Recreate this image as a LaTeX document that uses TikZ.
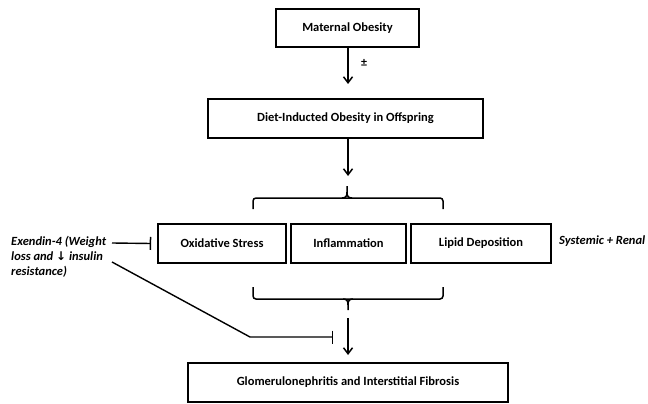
\documentclass[tikz,border=0pt]{standalone}
\usepackage{fontspec}
\setmainfont{Carlito}
\newfontfamily\symfont{DejaVu Sans}
\usetikzlibrary{arrows.meta}
\begin{document}
\begin{tikzpicture}[x=1pt,y=-1pt,
  box/.style={draw, line width=1.6pt, inner sep=0pt, font=\fontsize{12.5}{14}\selectfont\bfseries, align=center},
  arr/.style={line width=1.5pt, -{Straight Barb[length=6pt,width=9pt,line width=1.5pt]}},
  inh/.style={line width=1.4pt, -{Bar[width=13pt,line width=1.5pt]}},
  brace/.style={line width=1.5pt, rounded corners=3pt},
  lbl/.style={font=\fontsize{12.5}{15}\selectfont\bfseries\itshape, inner sep=0pt}]
\path[use as bounding box] (0,0) rectangle (648,404);

\node[box, minimum width=143pt, minimum height=38pt] (mo) at (347.5,28) {Maternal Obesity};
\node[box, minimum width=275pt, minimum height=39pt] (dio) at (345.5,118.5) {Diet-Inducted Obesity in Offspring};
\node[box, minimum width=128pt, minimum height=39pt] (ox) at (222,243.5) {Oxidative Stress};
\node[box, minimum width=115pt, minimum height=39pt] (inf) at (348.5,243.5) {Inflammation};
\node[box, minimum width=140pt, minimum height=39pt] (lip) at (481,243.5) {Lipid Deposition};
\node[box, minimum width=320pt, minimum height=39pt] (gl) at (348,382.5) {Glomerulonephritis and Interstitial Fibrosis};

\node[font=\fontsize{12}{13}\selectfont\bfseries, inner sep=0pt] (pm) at (364,63) {±};
\node[lbl, anchor=west] (sys) at (559,241) {Systemic + Renal};
\node[lbl, anchor=west, align=left] (ex) at (11,257) {Exendin-4 (Weight\\loss and {\symfont\bfseries\fontsize{12}{15}\selectfont ↓} insulin\\resistance)};

% arrows
\coordinate (a1) at (348,84);
\draw[arr] (mo.south -| a1) -- (a1);
\coordinate (a2) at (348,176);
\draw[arr] (dio.south -| a2) -- (a2);

% upper brace
\coordinate (ub) at (347,186);
\draw[brace] (253,209) -- (253,198) -- (443,198) -- (443,209);
\draw[line width=1.5pt] (342,198) .. controls (346,198) and (347,196) .. (347,192) -- (ub);
\draw[line width=1.5pt] (352,198) .. controls (348,198) and (347,196) .. (347,192);

% lower brace
\coordinate (lb) at (348,310);
\draw[brace] (253,287) -- (253,299) -- (443,299) -- (443,287);
\draw[line width=1.5pt] (343,299) .. controls (347,299) and (348,301) .. (348,305) -- (lb);
\draw[line width=1.5pt] (353,299) .. controls (349,299) and (348,301) .. (348,305);

\coordinate (a3s) at (348,318);
\coordinate (a3) at (348,355);
\draw[arr] (a3s) -- (a3);

% inhibitors
\coordinate (e1) at (112,243);
\draw[inh] (e1) -- ([xshift=-6pt]ox.west);
\coordinate (e2) at (112,262);
\coordinate (e3) at (250,337);
\coordinate (e4) at (333,337);
\draw[inh] (e2) -- (e3) -- (e4);
\end{tikzpicture}
\end{document}
